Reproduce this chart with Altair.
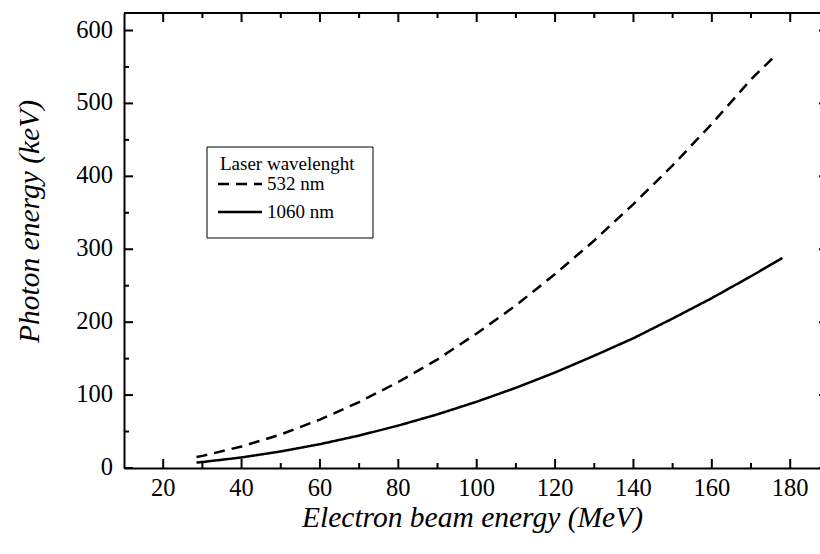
import altair as alt
import pandas as pd

# ---- data ----
series = ["532 nm", "1060 nm"]
legend_title = "Laser wavelenght"
energy_532 = [28.5, 30, 40, 50, 60, 70, 80, 90, 100, 110, 120, 130, 140, 150, 160, 170, 175.5]
photon_532 = [15, 16.6, 29.5, 46, 66.4, 90.4, 118, 149, 184.5, 223, 266, 312, 362, 415, 472, 533, 562]
energy_1060 = [28.5, 30, 40, 50, 60, 70, 80, 90, 100, 110, 120, 130, 140, 150, 160, 170, 178]
photon_1060 = [7.4, 8.2, 14.5, 22.7, 32.7, 44.5, 58.2, 73.6, 90.9, 110, 131, 154, 178, 205, 233, 263, 288]

x_major = [20, 40, 60, 80, 100, 120, 140, 160, 180]
x_minor = [30, 50, 70, 90, 110, 130, 150, 170]
y_major = [0, 100, 200, 300, 400, 500, 600]
y_minor = [50, 150, 250, 350, 450, 550]

W, H = 696, 455
FONT = "Liberation Serif"

curves = pd.DataFrame(
    {"energy": energy_532 + energy_1060,
     "photon": photon_532 + photon_1060,
     "series": [series[0]] * len(energy_532) + [series[1]] * len(energy_1060)}
)
xmaj = pd.DataFrame({"energy": x_major, "label": [str(v) for v in x_major]})
xmin = pd.DataFrame({"energy": x_minor})
ymaj = pd.DataFrame({"photon": y_major, "label": [str(v) for v in y_major]})
ymin = pd.DataFrame({"photon": y_minor})

xscale = alt.Scale(domain=[10, 187.6], nice=False, zero=False)
yscale = alt.Scale(domain=[0, 624], nice=False, zero=False)
dash_scale = alt.Scale(domain=series, range=[[11, 7], [1, 0]])

xaxis = alt.Axis(values=x_major, title="Electron beam energy (MeV)",
                 grid=False, ticks=False, labels=False, domain=True,
                 domainColor="black", domainWidth=2,
                 titleFont=FONT, titleFontSize=29.5, titleFontStyle="italic", titleFontWeight="normal",
                 titleColor="black", titleBaseline="alphabetic", titleY=58)
yaxis = alt.Axis(values=y_major, title="Photon energy (keV)",
                 grid=False, ticks=False, labels=False, domain=True,
                 domainColor="black", domainWidth=2,
                 titleFont=FONT, titleFontSize=29.5, titleFontStyle="italic", titleFontWeight="normal",
                 titleColor="black", titleAngle=270, titleAlign="center", titleBaseline="alphabetic",
                 titleX=-86, titleY=208)

X = lambda: alt.X("energy:Q", scale=xscale, axis=xaxis)
Y = lambda: alt.Y("photon:Q", scale=yscale, axis=yaxis)

lines = alt.Chart(curves).mark_line(color="black", strokeWidth=2.5).encode(
    x=X(), y=Y(),
    strokeDash=alt.StrokeDash("series:N", scale=dash_scale, legend=None),
)

tick_w = 2
xt_bot_maj = alt.Chart(xmaj).mark_rule(color="black", strokeWidth=tick_w).encode(
    x=X(), y=alt.value(H), y2=alt.value(H - 9))
xt_bot_min = alt.Chart(xmin).mark_rule(color="black", strokeWidth=tick_w).encode(
    x=X(), y=alt.value(H), y2=alt.value(H - 5))
xt_top_maj = alt.Chart(xmaj).mark_rule(color="black", strokeWidth=tick_w).encode(
    x=X(), y=alt.value(0), y2=alt.value(9))
xt_top_min = alt.Chart(xmin).mark_rule(color="black", strokeWidth=tick_w).encode(
    x=X(), y=alt.value(0), y2=alt.value(5))
yt_left_maj = alt.Chart(ymaj).mark_rule(color="black", strokeWidth=tick_w).encode(
    y=Y(), x=alt.value(0), x2=alt.value(9))
yt_left_min = alt.Chart(ymin).mark_rule(color="black", strokeWidth=tick_w).encode(
    y=Y(), x=alt.value(0), x2=alt.value(5))
yt_right_maj = alt.Chart(ymaj).mark_rule(color="black", strokeWidth=tick_w).encode(
    y=Y(), x=alt.value(W - 1), x2=alt.value(W + 8))
top_line = alt.Chart(xmaj).mark_rule(color="black", strokeWidth=2).encode(
    x=alt.value(0), x2=alt.value(W), y=alt.value(0))

# tick labels
x_labels = alt.Chart(xmaj).mark_text(
    font=FONT, fontSize=24.5, color="black", align="center", baseline="alphabetic"
).encode(x=X(), y=alt.value(H + 28), text="label:N")
y_labels = alt.Chart(ymaj).mark_text(
    font=FONT, fontSize=24.5, color="black", align="right", baseline="middle"
).encode(y=Y(), x=alt.value(-11), text="label:N")

# legend box
leg_box = alt.Chart(pd.DataFrame({"t": [legend_title]})).mark_rect(
    fill="white", stroke="black", strokeWidth=1
).encode(x=alt.value(83), x2=alt.value(249), y=alt.value(134), y2=alt.value(225))
leg_title = alt.Chart(pd.DataFrame({"t": [legend_title]})).mark_text(
    font=FONT, fontSize=19, color="black", align="left", baseline="alphabetic"
).encode(x=alt.value(96), y=alt.value(157), text="t:N")

leg_rows = []
for name, yy in zip(series, [171, 199]):
    d = pd.DataFrame({"series": [name]})
    leg_rows.append(alt.Chart(d).mark_rule(color="black", strokeWidth=2.5).encode(
        x=alt.value(94), x2=alt.value(138), y=alt.value(yy),
        strokeDash=alt.StrokeDash("series:N", scale=dash_scale, legend=None)))
    leg_rows.append(alt.Chart(d).mark_text(
        font=FONT, fontSize=19, color="black", align="left", baseline="middle"
    ).encode(x=alt.value(143), y=alt.value(yy), text="series:N"))

chart = alt.layer(
    lines, xt_bot_maj, xt_bot_min, xt_top_maj, xt_top_min,
    yt_left_maj, yt_left_min, yt_right_maj, top_line,
    x_labels, y_labels, leg_box, leg_title, *leg_rows
).properties(
    width=W, height=H,
    autosize=alt.AutoSizeParams(type="none"),
    padding={"left": 124, "top": 13, "right": 0, "bottom": 86},
    background="white",
).configure(
    font=FONT
).configure_view(strokeWidth=0)

chart.save("out.html", embed_options={"renderer": "svg", "actions": False})
